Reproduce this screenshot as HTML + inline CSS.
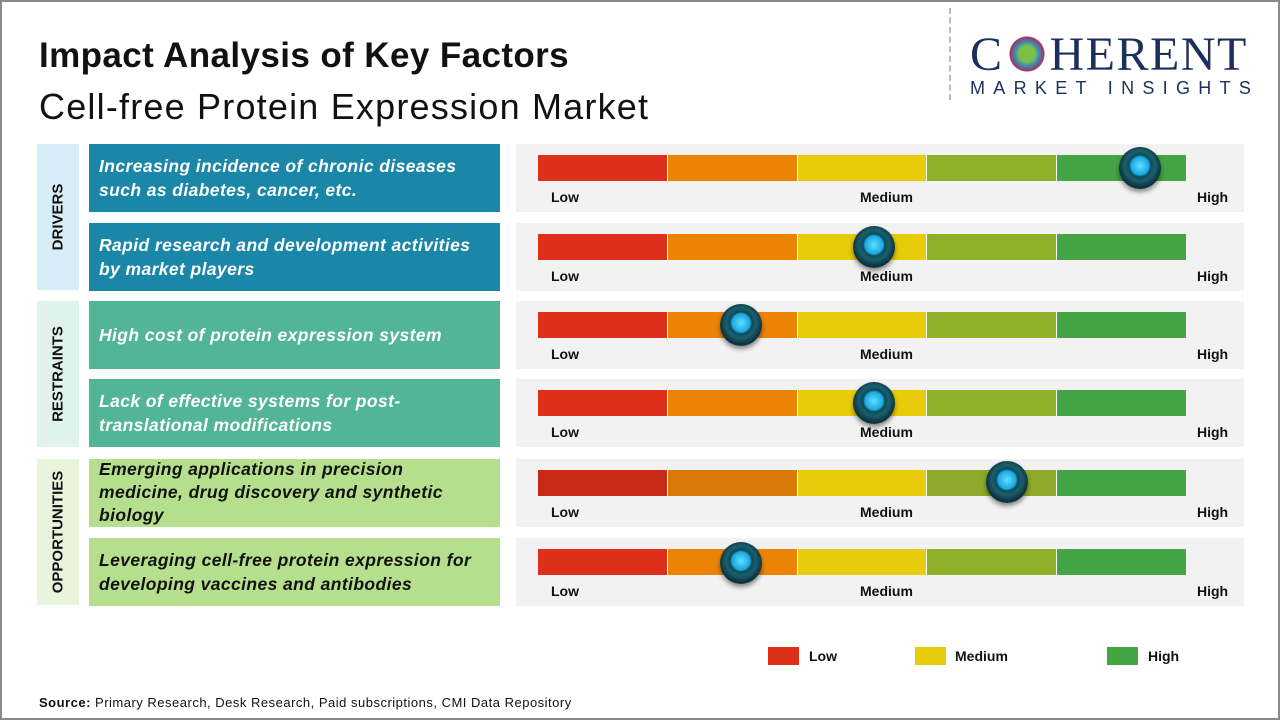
<!DOCTYPE html>
<html><head><meta charset="utf-8"><style>
*{margin:0;padding:0;box-sizing:border-box}
body{width:1280px;height:720px;background:#fff;font-family:"Liberation Sans",sans-serif;position:relative;overflow:hidden}
.frame{position:absolute;left:0;top:0;width:1280px;height:720px;border:2px solid #8a8a8a}
.t1{position:absolute;left:39px;top:36px;font-size:35px;font-weight:bold;color:#111;letter-spacing:0.4px}
.t2{position:absolute;left:39px;top:86px;font-size:36px;color:#111;letter-spacing:1.2px}
.cat{position:absolute;left:37px;width:42px}
.cat span{position:absolute;left:50%;top:50%;transform:translate(-50%,-50%) rotate(-90deg);font-weight:bold;font-size:15px;color:#111;white-space:nowrap}
.lab{position:absolute;left:89px;width:411px;height:68px;font-style:italic;font-weight:bold;font-size:17.5px;line-height:24px;padding:0 10px;display:flex;align-items:center;color:#fff;letter-spacing:0.4px;white-space:nowrap}
.pan{position:absolute;left:516px;width:728px;height:68px;background:#f2f2f2}
.bar{position:absolute;left:22px;top:11px;height:26px;width:648px;display:flex}
.bar div{flex:1;border-right:1.5px solid #fff}
.bar div:last-child{border-right:none}
.pan .l{position:absolute;top:45px;font-size:14px;font-weight:bold;color:#111}
.knob{position:absolute;width:42px;height:42px;border-radius:50%;background:radial-gradient(circle at 50% 45%,#5fe0ff 0,#1aa8e0 9px,#0b4a5a 11px,#1c5f6c 15px,#0c3440 21px);box-shadow:0 3px 5px rgba(0,0,0,.45)}
.leg{position:absolute;top:647px;width:31px;height:18px}
.legt{position:absolute;top:648px;font-size:14px;font-weight:bold;color:#111}
</style></head><body>
<div class="frame"></div>
<div class="t1">Impact Analysis of Key Factors</div>
<div class="t2">Cell-free Protein Expression Market</div>
<div style="position:absolute;left:949px;top:8px;height:92px;border-left:2px dashed #bbb"></div>
<div style="position:absolute;left:970px;top:30px;font-family:'Liberation Serif',serif;font-size:48px;color:#1d2f5c;letter-spacing:1.5px;line-height:50px">C<span style="display:inline-block;width:46px;height:36px;vertical-align:-2px;background:radial-gradient(circle,#7cc04a 0,#7cc04a 8px,#3a8cb8 12px,#a0335e 17px,transparent 18px)"></span>HERENT</div>
<div style="position:absolute;left:970px;top:78px;font-size:18px;color:#1d2f5c;letter-spacing:8.3px">MARKET INSIGHTS</div>

<div class="cat" style="top:144px;height:146px;background:#d7eef8"><span>DRIVERS</span></div>
<div class="cat" style="top:301px;height:146px;background:#dff2ec"><span>RESTRAINTS</span></div>
<div class="cat" style="top:459px;height:146px;background:#e8f5dc"><span>OPPORTUNITIES</span></div>

<div class="lab" style="top:144px;background:#1a87a8"><div>Increasing incidence of chronic diseases<br>such as diabetes, cancer, etc.</div></div>
<div class="lab" style="top:223px;background:#1a87a8"><div>Rapid research and development activities<br>by market players</div></div>
<div class="lab" style="top:301px;background:#52b596"><div>High cost of protein expression system</div></div>
<div class="lab" style="top:379px;background:#52b596"><div>Lack of effective systems for post-<br>translational modifications</div></div>
<div class="lab" style="top:459px;background:#b5df8c;color:#111;line-height:23px;align-items:flex-start;padding-top:-1px"><div style="margin-top:-1px">Emerging applications in precision<br>medicine, drug discovery and synthetic<br>biology</div></div>
<div class="lab" style="top:538px;background:#b5df8c;color:#111"><div>Leveraging cell-free protein expression for<br>developing vaccines and antibodies</div></div>

<div class="pan" style="top:144px"><div class="bar"><div style="background:#de2f1a"></div><div style="background:#ec8304"></div><div style="background:#e8cb0a"></div><div style="background:#8fb12a"></div><div style="background:#45a544"></div></div><span class="l" style="left:35px">Low</span><span class="l" style="left:344px">Medium</span><span class="l" style="left:681px">High</span><div class="knob" style="left:603px;top:3px"></div></div>
<div class="pan" style="top:223px"><div class="bar"><div style="background:#de2f1a"></div><div style="background:#ec8304"></div><div style="background:#e8cb0a"></div><div style="background:#8fb12a"></div><div style="background:#45a544"></div></div><span class="l" style="left:35px">Low</span><span class="l" style="left:344px">Medium</span><span class="l" style="left:681px">High</span><div class="knob" style="left:337px;top:3px"></div></div>
<div class="pan" style="top:301px"><div class="bar"><div style="background:#de2f1a"></div><div style="background:#ec8304"></div><div style="background:#e8cb0a"></div><div style="background:#8fb12a"></div><div style="background:#45a544"></div></div><span class="l" style="left:35px">Low</span><span class="l" style="left:344px">Medium</span><span class="l" style="left:681px">High</span><div class="knob" style="left:204px;top:3px"></div></div>
<div class="pan" style="top:379px"><div class="bar"><div style="background:#de2f1a"></div><div style="background:#ec8304"></div><div style="background:#e8cb0a"></div><div style="background:#8fb12a"></div><div style="background:#45a544"></div></div><span class="l" style="left:35px">Low</span><span class="l" style="left:344px">Medium</span><span class="l" style="left:681px">High</span><div class="knob" style="left:337px;top:3px"></div></div>
<div class="pan" style="top:459px"><div class="bar"><div style="background:#c92a17"></div><div style="background:#d97a08"></div><div style="background:#e8cb0a"></div><div style="background:#8fa92a"></div><div style="background:#45a544"></div></div><span class="l" style="left:35px">Low</span><span class="l" style="left:344px">Medium</span><span class="l" style="left:681px">High</span><div class="knob" style="left:470px;top:2px"></div></div>
<div class="pan" style="top:538px"><div class="bar"><div style="background:#de2f1a"></div><div style="background:#ec8304"></div><div style="background:#e8cb0a"></div><div style="background:#8fb12a"></div><div style="background:#45a544"></div></div><span class="l" style="left:35px">Low</span><span class="l" style="left:344px">Medium</span><span class="l" style="left:681px">High</span><div class="knob" style="left:204px;top:4px"></div></div>

<div class="leg" style="left:768px;background:#de2f1a"></div><div class="legt" style="left:809px">Low</div>
<div class="leg" style="left:915px;background:#e8cb0a"></div><div class="legt" style="left:955px">Medium</div>
<div class="leg" style="left:1107px;background:#45a544"></div><div class="legt" style="left:1148px">High</div>

<div style="position:absolute;left:39px;top:695px;font-size:13px;color:#111;letter-spacing:0.5px"><b>Source:</b> Primary Research, Desk Research, Paid subscriptions, CMI Data Repository</div>
</body></html>
